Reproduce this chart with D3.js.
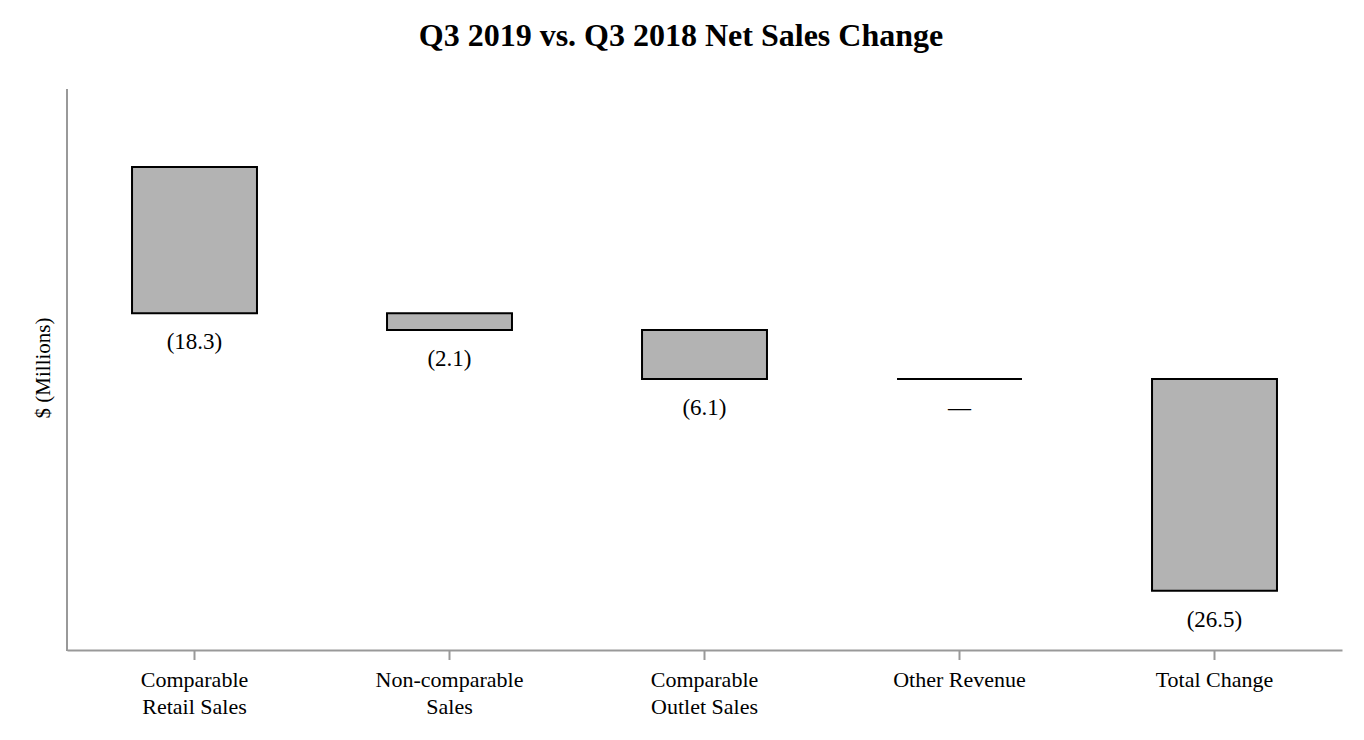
<!DOCTYPE html>
<html>
<head>
<meta charset="utf-8">
<script src="https://cdn.jsdelivr.net/npm/d3@7"></script>
<style>
    body { margin: 0; background: #fff; }
    text { font-family: "Liberation Serif", "Times New Roman", serif; fill: #000; }
</style>
</head>
<body>
<div id="chart"></div>
<script>
// waterfall: each change steps down from the previous running total
const categories = ['Comparable\nRetail Sales', 'Non-comparable\nSales', 'Comparable\nOutlet Sales', 'Other Revenue', 'Total Change']
const changes = [-18.3, -2.1, -6.1, 0, -26.5]
const valueLabels = ['(18.3)', '(2.1)', '(6.1)', '\u2014', '(26.5)']

const width = 1364
const height = 740
const margin = {top: 89, right: 22, bottom: 90, left: 67}

const svg = d3.select('#chart')
    .append('svg')
    .attr('width', width)
    .attr('height', height)

// running totals -> start/end of each bar
let running = 0
const bars = changes.map((c, i) => {
    const start = running
    running += c
    return {cat: categories[i], start: start, end: running, label: valueLabels[i]}
})

const x = d3.scaleBand()
    .domain(categories)
    .range([margin.left, width - margin.right])
    .paddingInner(0.51)
    .paddingOuter(0.255)

const y = d3.scaleLinear()
    .domain([-60.4, 9.75])
    .range([height - margin.bottom, margin.top])

// title
svg.append('text')
    .attr('x', 681)
    .attr('y', 46)
    .attr('text-anchor', 'middle')
    .style('font-size', '32px')
    .style('font-weight', 'bold')
    .text('Q3 2019 vs. Q3 2018 Net Sales Change')

// axes
const xAxis = svg.append('g')
    .attr('transform', `translate(0,${height - margin.bottom})`)
    .call(d3.axisBottom(x).tickSizeOuter(0).tickSizeInner(10).tickFormat(''))
xAxis.select('.domain').attr('stroke', '#999').attr('stroke-width', 2)
xAxis.selectAll('.tick line').attr('stroke', '#999').attr('stroke-width', 2)

svg.append('line')
    .attr('x1', margin.left).attr('x2', margin.left)
    .attr('y1', margin.top).attr('y2', height - margin.bottom + 1)
    .attr('stroke', '#999')
    .attr('stroke-width', 2)

// category labels, two lines where needed
svg.append('g').selectAll('text')
    .data(categories)
    .enter()
    .append('text')
    .attr('text-anchor', 'middle')
    .style('font-size', '22px')
    .attr('transform', d => `translate(${x(d) + x.bandwidth() / 2},${height - margin.bottom + 37})`)
    .selectAll('tspan')
    .data(d => d.split('\n'))
    .enter()
    .append('tspan')
    .attr('x', 0)
    .attr('dy', (d, i) => i === 0 ? 0 : 27)
    .text(d => d)

// y label
svg.append('text')
    .attr('transform', `translate(50,368) rotate(-90)`)
    .attr('text-anchor', 'middle')
    .style('font-size', '21px')
    .text('$ (Millions)')

// bars drawn as paths so a zero change still shows as a line
svg.append('g').selectAll('path')
    .data(bars)
    .enter()
    .append('path')
    .attr('d', d => {
        const x0 = x(d.cat)
        const y0 = y(Math.max(d.start, d.end))
        const h = Math.abs(y(d.start) - y(d.end))
        return `M${x0},${y0}h${x.bandwidth()}v${h}h${-x.bandwidth()}Z`
    })
    .attr('fill', '#b3b3b3')
    .attr('stroke', '#000')
    .attr('stroke-width', 2)

// value labels under each bar
svg.append('g').selectAll('text')
    .data(bars)
    .enter()
    .append('text')
    .attr('x', d => x(d.cat) + x.bandwidth() / 2)
    .attr('y', d => y(Math.min(d.start, d.end)) + 36)
    .attr('text-anchor', 'middle')
    .style('font-size', '23px')
    .text(d => d.label)
</script>
</body>
</html>
